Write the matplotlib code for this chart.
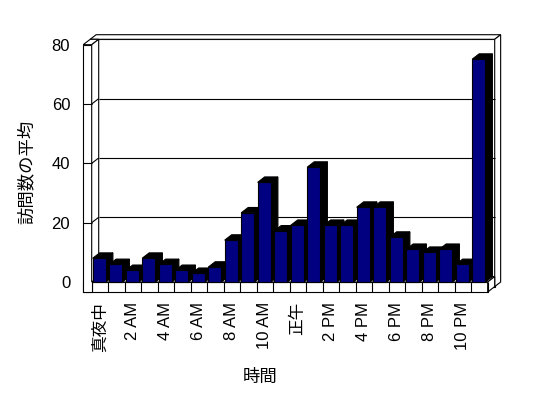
import matplotlib
matplotlib.use("Agg")
import matplotlib.pyplot as plt
from matplotlib.patches import Polygon

plt.rcParams['font.family'] = ['Liberation Sans', 'Noto Sans CJK JP']
plt.rcParams['font.size'] = 12

# data
hours = list(range(24))
visits = [8.0, 5.9, 3.9, 8.0, 5.9, 3.9, 2.9, 5.0, 14.1, 23.3, 33.6, 17.2,
          19.1, 38.7, 19.1, 19.1, 25.2, 25.2, 15.1, 11.0, 10.0, 11.0, 5.9, 75.1]
tick_pos = list(range(0, 24, 2))
tick_labels = ["真夜中", "2 AM", "4 AM", "6 AM", "8 AM", "10 AM",
               "正午", "2 PM", "4 PM", "6 PM", "8 PM", "10 PM"]
y_ticks = [0, 20, 40, 60, 80]

W, H = 548, 398
fig = plt.figure(figsize=(W / 100, H / 100), dpi=100)
# front plane of the 3d box, in pixels
x0, x1 = 91.7, 487.7
y0, y1 = 282.0, 44.7
ax = fig.add_axes([x0 / W, 1 - y0 / H, (x1 - x0) / W, (y0 - y1) / H])
ax.set_xlim(-0.5, 23.5)
ax.set_ylim(0, 80)

pxx = (x1 - x0) / 24.0     # pixels per category
pxy = (y0 - y1) / 80.0     # pixels per unit
DX = 7.0 / pxx             # depth offset (x) in data units
DY = 5.4 / pxy             # depth offset (y)
T = 8.5 / pxx              # left wall thickness
F = 10.0 / pxy             # floor thickness
TB = 0.85                  # back wall thickness (depth units)
xL = -0.5 - T
xR = 23.5
lw = 0.8


def P(x, y, z):
    return (x + z * DX, y + z * DY)


def face(pts, fc='white', z=1):
    ax.add_patch(Polygon([P(*p) for p in pts], closed=True, fc=fc, ec='black',
                         lw=lw, clip_on=False, zorder=z, joinstyle='miter'))


def line(p, q, z=2):
    a, b = P(*p), P(*q)
    ax.plot([a[0], b[0]], [a[1], b[1]], color='black', lw=lw, clip_on=False,
            zorder=z, solid_capstyle='butt')


# back wall slab
face([(xL, -F, 1), (xR, -F, 1), (xR, 80, 1), (xL, 80, 1)])
face([(xL, 80, 1), (xR, 80, 1), (xR, 80, 1 + TB), (xL, 80, 1 + TB)])
face([(xR, -F, 1), (xR, 80, 1), (xR, 80, 1 + TB), (xR, -F, 1 + TB)])
for v in y_ticks[1:-1]:
    line((-0.5, v, 1), (xR, v, 1))

# floor slab
face([(xL, 0, 0), (xR, 0, 0), (xR, 0, 1), (xL, 0, 1)], z=3)
face([(xL, -F, 0), (xR, -F, 0), (xR, 0, 0), (xL, 0, 0)], z=3)
face([(xR, -F, 0), (xR, 0, 0), (xR, 0, 1), (xR, -F, 1)], z=3)
for k in range(25):
    line((k - 0.5, -F, 0), (k - 0.5, 0, 0), z=4)

# left wall slab
face([(xL, -F, 0), (-0.5, -F, 0), (-0.5, 80, 0), (xL, 80, 0)], z=5)
face([(xL, 80, 0), (-0.5, 80, 0), (-0.5, 80, 1), (xL, 80, 1)], z=5)
face([(-0.5, 0, 0), (-0.5, 80, 0), (-0.5, 80, 1), (-0.5, 0, 1)], z=5)
for v in y_ticks[1:-1]:
    line((xL, v, 0), (-0.5, v, 0), z=6)
    line((-0.5, v, 0), (-0.5, v, 1), z=6)

# bars
bars = ax.bar([h - 0.44 for h in hours], visits, width=0.8, align='edge',
              color='#000080', edgecolor='black', linewidth=lw, clip_on=False)
for k, b in enumerate(bars):
    bx, bw, bh = b.get_x(), b.get_width(), b.get_height()
    zb = 10 + 2 * k
    face([(bx + bw, 0, 0), (bx + bw, bh, 0), (bx + bw, bh, 1), (bx + bw, 0, 1)],
         fc='black', z=zb)
    face([(bx, bh, 0), (bx + bw, bh, 0), (bx + bw, bh, 1), (bx, bh, 1)],
         fc='black', z=zb)
    b.set_zorder(zb + 1)

for s in ax.spines.values():
    s.set_visible(False)
ax.set_xticks(tick_pos)
ax.set_xticklabels(tick_labels, rotation=90, va='top')
ax.set_yticks(y_ticks)
ax.tick_params(axis='x', length=0, pad=14.5)
ax.tick_params(axis='y', length=0, pad=15.5)

fig.text(26.7 / W, 1 - 171.7 / H, "訪問数の平均", rotation=90,
         ha='center', va='center', fontsize=12.5)
fig.text(260 / W, 1 - 377 / H, "時間", ha='center', va='center',
         fontsize=12.5)

fig.savefig("out.png", dpi=100, facecolor='white')
